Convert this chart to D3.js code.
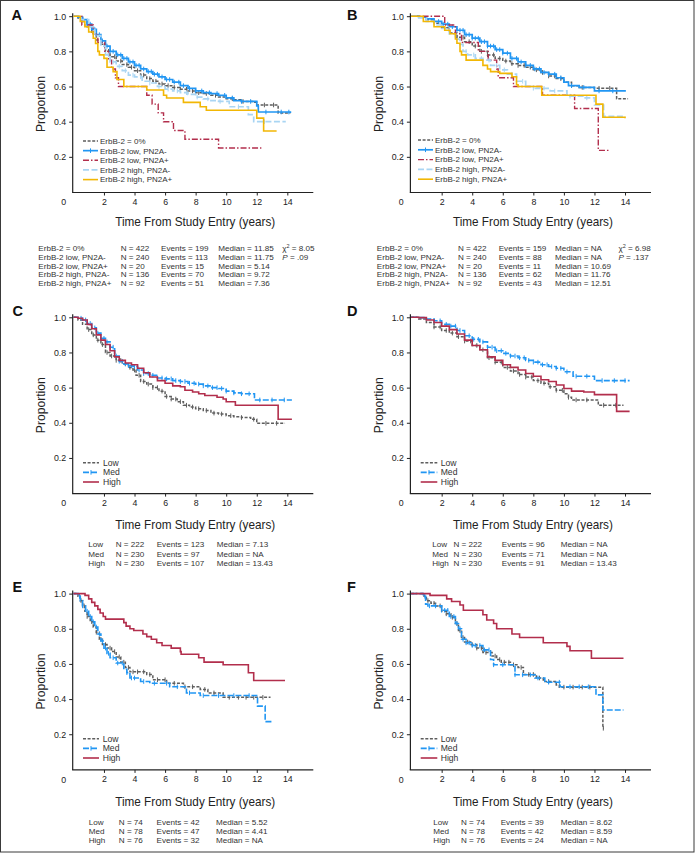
<!DOCTYPE html>
<html><head><meta charset="utf-8">
<script src="https://cdn.jsdelivr.net/npm/d3@7"></script>
<style>
body{margin:0;background:#fff}
text{font-family:"Liberation Sans",Arial,Helvetica,sans-serif;fill:#222}
</style>
</head><body>
<svg id="chart" width="695" height="853"></svg>
<script>
// ---------------- DATA ----------------
const xTicks = [2,4,6,8,10,12,14];
const yTicks = [0.2,0.4,0.6,0.8,1.0];

// Panel A (step points [years, proportion])
const A_zero = [[0,1],[0.3,0.99],[0.6,0.97],[0.9,0.94],[1.2,0.9],[1.5,0.865],[1.8,0.84],[2.1,0.8],[2.4,0.77],[2.8,0.745],[3.2,0.725],[3.6,0.71],[4.0,0.69],[4.4,0.665],[4.8,0.645],[5.2,0.63],[5.6,0.615],[6.0,0.605],[6.5,0.595],[7.0,0.585],[7.5,0.575],[8.0,0.565],[8.5,0.56],[9.0,0.55],[9.5,0.54],[10.0,0.53],[10.5,0.525],[11.0,0.515],[11.8,0.51],[12.0,0.495],[13.4,0.45],[14.2,0.45]];
const A_lowNeg = [[0,1],[0.3,0.995],[0.6,0.98],[0.9,0.955],[1.2,0.925],[1.5,0.895],[1.8,0.86],[2.1,0.83],[2.4,0.8],[2.8,0.78],[3.2,0.76],[3.6,0.74],[4.0,0.72],[4.4,0.7],[4.8,0.685],[5.2,0.67],[5.6,0.655],[6.0,0.64],[6.5,0.625],[7.0,0.605],[7.5,0.59],[8.0,0.575],[8.5,0.565],[9.0,0.56],[9.5,0.55],[10.0,0.535],[10.5,0.52],[11.0,0.515],[12.0,0.49],[12.1,0.455],[14.2,0.45]];
const A_lowPos = [[0,1],[0.55,0.95],[1.3,0.9],[1.6,0.85],[2.05,0.8],[2.3,0.75],[2.5,0.7],[2.75,0.65],[2.95,0.6],[4.8,0.55],[5.15,0.5],[5.55,0.45],[5.9,0.4],[6.55,0.35],[7.3,0.3],[9.5,0.25],[12.3,0.25]];
const A_highNeg = [[0,1],[0.5,0.98],[1.0,0.94],[1.4,0.89],[1.8,0.83],[2.1,0.78],[2.4,0.74],[2.8,0.715],[3.2,0.69],[3.6,0.665],[4.0,0.655],[4.5,0.63],[5.0,0.62],[5.5,0.6],[6.0,0.585],[6.5,0.575],[7.0,0.565],[7.5,0.555],[8.0,0.54],[8.5,0.53],[9.0,0.52],[9.5,0.515],[10.2,0.485],[11.45,0.44],[11.8,0.4],[13.9,0.4]];
const A_highPos = [[0,1],[0.45,0.97],[0.75,0.94],[1.0,0.91],[1.3,0.875],[1.45,0.845],[1.6,0.8],[1.7,0.78],[2.0,0.76],[2.2,0.71],[2.6,0.685],[2.85,0.64],[3.3,0.6],[4.8,0.58],[5.9,0.55],[6.1,0.535],[7.2,0.51],[8.3,0.485],[8.7,0.465],[12.0,0.42],[12.45,0.347],[13.3,0.347]];
const A_zeroCens = [2.3,2.7,3.1,3.5,3.8,4.2,4.6,5.0,5.4,5.8,6.2,6.6,7.0,7.4,7.8,8.2,8.7,9.3,10.4,11.1,12.5,13.1];
const A_lowNegCens = [0.9,1.1,1.4,1.7,1.9,2.2,2.4,2.6,2.9,3.1,3.3,3.5,3.7,3.9,4.1,4.3,4.6,4.9,5.1,5.3,5.5,5.8,6.1,6.3,6.6,6.9,7.2,7.6,8.0,8.4,8.9,9.4,9.9,10.4,11.0,11.6,12.6,13.6,14.1];
const A_highNegCens = [2.3,2.6,3.0,3.4,3.9,4.4,5.0,5.6,6.2,6.8,7.4,8.1,8.8,9.6,10.8,12.5];

// Panel B
const B_zero = [[0,1],[0.5,0.995],[1.0,0.98],[1.5,0.96],[2.0,0.935],[2.5,0.905],[3.0,0.88],[3.5,0.855],[4.0,0.83],[4.5,0.8],[5.0,0.78],[5.5,0.76],[6.0,0.745],[6.5,0.73],[7.0,0.72],[7.5,0.71],[8.0,0.695],[8.5,0.68],[9.0,0.66],[9.5,0.645],[10.0,0.625],[10.5,0.605],[11.0,0.595],[12.0,0.59],[13.45,0.53],[14.2,0.53]];
const B_lowNeg = [[0,1],[0.5,0.995],[1.0,0.985],[1.5,0.97],[2.0,0.955],[2.5,0.94],[3.0,0.92],[3.5,0.895],[4.0,0.875],[4.5,0.855],[5.0,0.83],[5.5,0.81],[6.0,0.79],[6.5,0.76],[7.0,0.74],[7.5,0.72],[8.0,0.7],[8.5,0.68],[9.0,0.67],[9.5,0.65],[10.0,0.625],[10.3,0.605],[11.0,0.595],[12.0,0.575],[14.0,0.57]];
const B_lowPos = [[0,1],[2.2,0.95],[2.9,0.9],[3.3,0.85],[4.4,0.8],[5.05,0.75],[5.6,0.7],[5.7,0.65],[6.7,0.6],[8.6,0.55],[10.7,0.475],[12.25,0.237],[13.0,0.237]];
const B_highNeg = [[0,1],[0.5,0.99],[1.0,0.97],[1.5,0.95],[2.0,0.93],[2.5,0.9],[2.9,0.87],[3.2,0.84],[3.4,0.8],[3.7,0.78],[4.2,0.76],[4.7,0.75],[5.2,0.72],[5.8,0.695],[6.3,0.67],[6.9,0.63],[7.5,0.6],[8.0,0.59],[9.1,0.575],[10.2,0.545],[11.3,0.535],[12.0,0.495],[12.6,0.43],[14.0,0.425]];
const B_highPos = [[0,1],[0.8,0.97],[1.5,0.94],[2.2,0.92],[2.55,0.9],[2.9,0.87],[3.0,0.846],[3.2,0.8],[3.3,0.78],[3.6,0.75],[4.7,0.72],[5.0,0.7],[5.2,0.685],[5.8,0.675],[6.6,0.656],[6.9,0.61],[7.0,0.6],[8.55,0.55],[12.1,0.5],[12.55,0.425],[14.0,0.42]];
const B_zeroCens = [3.0,3.4,3.8,4.2,4.6,5.0,5.4,5.8,6.2,6.6,7.0,7.4,7.8,8.2,8.6,9.0,9.4,9.8,10.5,11.2,12.3,13.0];
const B_lowNegCens = [1.5,1.8,2.1,2.4,2.7,3.0,3.2,3.4,3.6,3.8,4.0,4.2,4.4,4.6,4.8,5.0,5.2,5.4,5.6,5.8,6.0,6.3,6.6,6.9,7.2,7.5,7.8,8.1,8.4,8.7,9.0,9.4,9.8,10.5,11.3,12.3,13.2];
const B_highNegCens = [3.6,4.1,4.6,5.1,5.6,6.1,6.6,7.3,8.0,8.7,9.4,10.4,11.5];

// Panel C
const C_low = [[0,1],[0.3,0.985],[0.6,0.96],[0.9,0.93],[1.2,0.9],[1.5,0.87],[1.8,0.845],[2.1,0.8],[2.4,0.78],[2.8,0.755],[3.2,0.735],[3.6,0.715],[3.9,0.7],[4.1,0.67],[4.4,0.635],[4.8,0.62],[5.2,0.6],[5.6,0.58],[6.0,0.55],[6.4,0.535],[6.8,0.52],[7.2,0.5],[7.6,0.49],[8.0,0.48],[8.5,0.47],[9.0,0.455],[9.5,0.45],[10.0,0.44],[10.5,0.435],[11.0,0.43],[11.6,0.42],[12.0,0.397],[13.85,0.397]];
const C_med = [[0,1],[0.3,0.995],[0.6,0.985],[0.9,0.965],[1.2,0.94],[1.5,0.91],[1.8,0.88],[2.1,0.86],[2.4,0.83],[2.7,0.78],[3.0,0.75],[3.3,0.735],[3.6,0.725],[3.9,0.72],[4.2,0.7],[4.6,0.68],[5.0,0.67],[5.5,0.655],[6.0,0.65],[6.5,0.64],[7.0,0.635],[7.5,0.625],[8.0,0.62],[8.5,0.61],[9.0,0.6],[9.5,0.595],[10.0,0.58],[10.5,0.57],[11.0,0.565],[11.85,0.53],[14.3,0.53]];
const C_high = [[0,1],[0.3,0.995],[0.6,0.985],[0.9,0.96],[1.2,0.935],[1.5,0.9],[1.8,0.87],[2.1,0.845],[2.4,0.81],[2.7,0.775],[3.0,0.755],[3.4,0.74],[3.8,0.73],[4.2,0.71],[4.6,0.685],[5.0,0.66],[5.5,0.64],[6.0,0.625],[6.5,0.61],[7.0,0.605],[7.3,0.585],[7.8,0.575],[8.2,0.565],[8.6,0.555],[9.4,0.545],[9.8,0.535],[10.0,0.52],[10.6,0.5],[13.4,0.42],[14.3,0.42]];
const C_lowCens = [1.0,1.3,1.6,1.9,2.2,2.5,2.8,3.1,3.4,3.7,4.0,4.3,4.6,4.9,5.2,5.5,5.8,6.1,6.4,6.7,7.0,7.4,7.8,8.2,8.7,9.2,9.7,10.3,11.0,11.8,12.6,13.3];
const C_medCens = [0.5,0.8,1.1,1.4,1.6,1.8,2.0,2.2,2.4,2.6,2.8,3.0,3.2,3.4,3.6,3.8,4.0,4.3,4.6,4.9,5.2,5.5,5.8,6.1,6.4,6.7,7.0,7.3,7.6,7.9,8.2,8.5,8.8,9.1,9.4,9.7,10.0,10.5,11.0,11.5,12.2,13.0,13.8];

// Panel D
const D_low = [[0,1],[0.5,0.99],[1.0,0.97],[1.5,0.945],[2.0,0.925],[2.5,0.91],[3.0,0.89],[3.5,0.865],[4.0,0.84],[4.5,0.815],[5.0,0.77],[5.5,0.745],[6.0,0.715],[6.5,0.695],[7.0,0.675],[7.5,0.66],[8.0,0.64],[8.5,0.625],[9.0,0.605],[9.5,0.585],[10.0,0.565],[10.3,0.545],[10.5,0.53],[12.25,0.5],[13.9,0.5]];
const D_med = [[0,1],[0.5,0.998],[1.0,0.99],[1.5,0.98],[2.0,0.96],[2.5,0.95],[3.0,0.925],[3.5,0.895],[4.0,0.875],[4.5,0.86],[5.0,0.83],[5.5,0.81],[6.0,0.795],[6.5,0.78],[7.0,0.77],[7.5,0.755],[8.0,0.745],[8.5,0.73],[9.0,0.72],[9.5,0.71],[10.0,0.69],[10.6,0.665],[12.0,0.64],[14.3,0.64]];
const D_high = [[0,1],[0.5,0.998],[1.0,0.985],[1.5,0.97],[2.0,0.95],[2.5,0.93],[3.0,0.905],[3.5,0.87],[4.0,0.84],[4.5,0.815],[5.0,0.775],[5.5,0.755],[6.0,0.73],[6.5,0.715],[7.0,0.7],[7.5,0.68],[8.0,0.665],[8.5,0.645],[9.0,0.635],[9.5,0.615],[10.0,0.595],[10.5,0.58],[11.3,0.575],[12.0,0.56],[13.45,0.465],[14.3,0.465]];
const D_lowCens = [1.5,1.9,2.3,2.7,3.1,3.5,3.9,4.3,4.7,5.1,5.5,5.9,6.3,6.7,7.1,7.5,7.9,8.3,8.7,9.1,9.5,9.9,10.3,10.8,11.5,12.6,13.4];
const D_medCens = [1.5,1.9,2.3,2.6,2.9,3.2,3.5,3.8,4.1,4.4,4.7,5.0,5.3,5.6,5.9,6.2,6.5,6.8,7.1,7.4,7.7,8.0,8.3,8.6,8.9,9.2,9.5,9.8,10.2,10.8,11.5,12.5,13.3,14.0];

// Panel E
const E_low = [[0,1],[0.3,0.985],[0.45,0.96],[0.6,0.93],[0.75,0.9],[0.9,0.87],[1.1,0.84],[1.3,0.81],[1.5,0.78],[1.7,0.74],[1.9,0.71],[2.2,0.69],[2.5,0.67],[2.8,0.64],[3.1,0.61],[3.4,0.58],[3.7,0.555],[4.8,0.54],[5.2,0.51],[6.1,0.49],[7.2,0.47],[8.3,0.455],[8.8,0.435],[9.8,0.41],[12.9,0.41]];
const E_med = [[0,1],[0.3,0.985],[0.45,0.96],[0.6,0.93],[0.8,0.9],[1.0,0.87],[1.2,0.84],[1.4,0.81],[1.6,0.77],[1.8,0.73],[2.0,0.69],[2.2,0.66],[2.4,0.635],[2.8,0.605],[3.3,0.57],[3.5,0.55],[3.7,0.52],[4.4,0.5],[5.0,0.49],[6.3,0.47],[7.4,0.435],[8.3,0.42],[12.05,0.36],[12.55,0.272],[13.0,0.272]];
const E_high = [[0,1],[0.76,0.99],[1.0,0.97],[1.2,0.95],[1.4,0.93],[1.6,0.91],[1.75,0.89],[1.95,0.87],[2.1,0.855],[3.3,0.835],[3.45,0.815],[3.7,0.8],[3.95,0.79],[4.55,0.77],[4.8,0.755],[5.1,0.74],[5.45,0.72],[5.8,0.705],[6.4,0.69],[7.0,0.67],[7.05,0.655],[8.2,0.635],[8.55,0.61],[9.8,0.595],[11.45,0.55],[11.8,0.506],[13.85,0.506]];
const E_lowCens = [0.5,0.7,0.9,1.2,1.5,1.8,2.1,2.4,2.7,3.0,3.3,3.6,3.9,4.2,4.6,5.0,5.5,6.0,6.6,7.3,7.8,8.6,9.2,10.2,10.8,11.3,11.8,12.4];
const E_medCens = [0.4,0.6,0.9,1.1,1.3,1.5,1.7,1.9,2.1,2.3,2.6,2.9,3.2,3.5,3.8,4.0,4.6,5.3,6.1,6.8,7.6,8.5,9.5,10.5,11.5];

// Panel F
const F_low = [[0,1],[0.85,0.985],[1.0,0.96],[1.3,0.945],[1.6,0.93],[2.0,0.9],[2.3,0.885],[2.6,0.865],[2.9,0.83],[3.1,0.79],[3.3,0.75],[3.5,0.725],[3.9,0.71],[4.3,0.69],[4.7,0.665],[5.3,0.645],[5.6,0.625],[5.9,0.61],[6.5,0.595],[7.0,0.58],[7.35,0.54],[8.2,0.52],[8.65,0.5],[9.5,0.48],[9.7,0.468],[12.55,0.234],[12.6,0.234]];
const F_med = [[0,1],[0.8,0.985],[0.95,0.94],[1.1,0.93],[2.0,0.905],[2.5,0.87],[2.9,0.83],[3.1,0.8],[3.3,0.74],[3.6,0.72],[4.0,0.705],[4.7,0.68],[5.2,0.625],[5.4,0.595],[6.8,0.538],[8.1,0.52],[8.75,0.496],[9.75,0.47],[12.1,0.424],[12.55,0.338],[13.9,0.338]];
const F_high = [[0,1],[1.24,0.99],[2.33,0.97],[2.65,0.955],[3.2,0.935],[3.42,0.905],[4.7,0.88],[4.95,0.85],[5.4,0.83],[5.6,0.8],[6.6,0.77],[7.1,0.75],[8.65,0.72],[10.2,0.7],[10.4,0.675],[11.8,0.632],[13.9,0.632]];
const F_lowCens = [1.1,1.5,1.9,2.3,2.7,3.0,3.2,3.4,3.7,4.0,4.3,4.6,4.9,5.2,5.5,5.8,6.1,6.4,6.7,7.2,7.7,8.0,8.4,9.0,10.0,10.6,11.2,11.7,12.58];
const F_medCens = [0.9,1.2,1.6,2.0,2.2,2.4,2.6,2.8,3.0,3.2,3.4,3.6,3.8,4.0,4.2,4.5,4.8,5.1,5.4,6.0,6.8,7.3,7.8,8.3,9.0,9.7,10.4,11.0,11.6];

// Tables / legends
const groupsAB = ["ErbB-2 = 0%","ErbB-2 low, PN2A-","ErbB-2 low, PN2A+","ErbB-2 high, PN2A-","ErbB-2 high, PN2A+"];
const nAB = [422,240,20,136,92];
const eventsA = [199,113,15,70,51];
const medianA = ["11.85","11.75","5.14","9.72","7.36"];
const eventsB = [159,88,11,62,43];
const medianB = ["NA","NA","10.69","11.76","12.51"];
const chiA = "8.05", pA = ".09", chiB = "6.98", pB = ".137";
const levels = ["Low","Med","High"];
const nCD = [222,230,230];
const eventsC = [123,97,107];
const medianC = ["7.13","NA","13.43"];
const eventsD = [96,71,91];
const medianD = ["NA","NA","13.43"];
const nEF = [74,78,76];
const eventsE = [42,47,32];
const medianE = ["5.52","4.41","NA"];
const eventsF = [39,42,24];
const medianF = ["8.62","8.59","NA"];

// ---------------- STYLES ----------------
const GRAY = "#5e5e5e", BLUE = "#2196f3", RED = "#b22e4c", LBLUE = "#a9d5f3", GOLD = "#f2b705";
const S = {
  gray:  {c:GRAY, d:"3,1.6", w:1.5},
  blue:  {c:BLUE, d:null, w:1.7},
  blueD: {c:BLUE, d:"6,2", w:1.6},
  redDD: {c:RED, d:"6,2,1.5,2", w:1.4},
  lblue: {c:LBLUE, d:"6,2.5", w:1.7},
  gold:  {c:GOLD, d:null, w:1.6},
  red:   {c:RED, d:null, w:1.6}
};

const XPX = 15.28, YPX = 175.8, XMAX = 15.7;

function rowsAB(ev, med, chi, p){
  return groupsAB.map((g,i)=>[g,"N = "+nAB[i],"Events = "+ev[i],"Median = "+med[i], i===0?["chi",chi]:(i===1?["p",p]:null)]);
}
function rowsLv(n, ev, med){ return levels.map((g,i)=>[g,"N = "+n[i],"Events = "+ev[i],"Median = "+med[i],null]); }

const panels = [
  {letter:"A", lx:11.5, ly:20, x0:73.4, yb:192, titleY:221,
   series:[[A_zero,S.gray,A_zeroCens],[A_lowNeg,S.blue,A_lowNegCens],[A_lowPos,S.redDD,[]],[A_highNeg,S.lblue,A_highNegCens],[A_highPos,S.gold,[]]],
   legNames:groupsAB, leg:{y0:141, dy:9.65, sx0:83, sx1:98, tx:100, fs:8},
   table:{rows:rowsAB(eventsA,medianA,chiA,pA), cols:[38.3,120.7,161,218.3,282.3], y0:248.5, dy:8.6}},
  {letter:"B", lx:347, ly:20, x0:411.1, yb:192, titleY:221,
   series:[[B_zero,S.gray,B_zeroCens],[B_lowNeg,S.blue,B_lowNegCens],[B_lowPos,S.redDD,[]],[B_highNeg,S.lblue,B_highNegCens],[B_highPos,S.gold,[]]],
   legNames:groupsAB, leg:{y0:140, dy:9.8, sx0:418, sx1:433, tx:435, fs:8},
   table:{rows:rowsAB(eventsB,medianB,chiB,pB), cols:[376.8,457.9,498.7,555,618.4], y0:248.5, dy:8.6}},
  {letter:"C", lx:12.5, ly:315.5, x0:73.4, yb:493.1, titleY:523.7,
   series:[[C_low,S.gray,C_lowCens],[C_med,S.blueD,C_medCens],[C_high,S.red,[]]],
   legNames:levels, leg:{y0:462.7, dy:9.65, sx0:83, sx1:99, tx:103, fs:8.6},
   table:{rows:rowsLv(nCD,eventsC,medianC), cols:[88.3,115.7,156.7,216.7], y0:544.3, dy:9.3}},
  {letter:"D", lx:347, ly:315.5, x0:411.1, yb:493.1, titleY:523.7,
   series:[[D_low,S.gray,D_lowCens],[D_med,S.blueD,D_medCens],[D_high,S.red,[]]],
   legNames:levels, leg:{y0:462.7, dy:9.65, sx0:420.7, sx1:437.3, tx:440.7, fs:8.6},
   table:{rows:rowsLv(nCD,eventsD,medianD), cols:[432.2,453.5,501.8,560.7], y0:544.3, dy:9.3}},
  {letter:"E", lx:12.5, ly:592.3, x0:73.4, yb:769.4, titleY:801,
   series:[[E_low,S.gray,E_lowCens],[E_med,S.blueD,E_medCens],[E_high,S.red,[]]],
   legNames:levels, leg:{y0:738.7, dy:9.65, sx0:83, sx1:99, tx:102.7, fs:8.6},
   table:{rows:rowsLv(nEF,eventsE,medianE), cols:[88.7,118.8,156.5,215.9], y0:821.7, dy:9.2}},
  {letter:"F", lx:347, ly:592.3, x0:411.1, yb:769.4, titleY:801,
   series:[[F_low,S.gray,F_lowCens],[F_med,S.blueD,F_medCens],[F_high,S.red,[]]],
   legNames:levels, leg:{y0:738.7, dy:9.65, sx0:420.7, sx1:437.3, tx:440.7, fs:8.6},
   table:{rows:rowsLv(nEF,eventsF,medianF), cols:[433.3,461,500.7,560.7], y0:821.7, dy:9.2}}
];

// ---------------- DRAW ----------------
const svg = d3.select("#chart");
svg.append("rect").attr("x",0.5).attr("y",0.5).attr("width",693.5).attr("height",851.5)
   .attr("fill","#fff").attr("stroke","#3a3a3a").attr("stroke-width",1);

function valAt(data, t){ let v = data[0][1]; for(const p of data){ if(p[0] <= t) v = p[1]; else break; } return v; }

function styleLine(sel, st){
  sel.attr("fill","none").attr("stroke",st.c).attr("stroke-width",st.w);
  if(st.d) sel.attr("stroke-dasharray",st.d);
  return sel;
}

panels.forEach(P=>{
  const g = svg.append("g");
  const x = d3.scaleLinear().domain([0,XMAX]).range([P.x0, P.x0 + XMAX*XPX]);
  const y = d3.scaleLinear().domain([0,1]).range([P.yb, P.yb - YPX]);

  // panel letter
  g.append("text").attr("x",P.lx).attr("y",P.ly).text(P.letter)
    .style("font-size","14.5px").style("font-weight","bold").style("fill","#111");

  // y axis
  const ya = g.append("g").attr("transform",`translate(${P.x0-0.7},0)`)
    .call(d3.axisLeft(y).tickValues(yTicks).tickFormat(d3.format(".1f")).tickSize(3.5).tickPadding(3));
  ya.select(".domain").remove();
  ya.selectAll("text").style("font-size","8.8px").style("fill","#222");
  ya.selectAll("line").attr("stroke","#222");
  // x axis
  const xa = g.append("g").attr("transform",`translate(0,${P.yb+0.5})`)
    .call(d3.axisBottom(x).tickValues(xTicks).tickSize(3).tickPadding(3));
  xa.select(".domain").remove();
  xa.selectAll("text").style("font-size","8.8px").style("fill","#222");
  xa.selectAll("line").attr("stroke","#222");
  g.append("text").attr("x",P.x0-9.8).attr("y",P.yb+13.3).attr("text-anchor","middle")
    .text("0").style("font-size","8.8px");
  // axis lines
  g.append("line").attr("x1",P.x0-0.7).attr("x2",P.x0-0.7).attr("y1",P.yb+0.5).attr("y2",y(1.017))
    .attr("stroke","#222").attr("stroke-width",1.2);
  g.append("line").attr("x1",P.x0-1.3).attr("x2",x(XMAX)).attr("y1",P.yb+0.5).attr("y2",P.yb+0.5)
    .attr("stroke","#222").attr("stroke-width",1.2);

  // axis titles
  g.append("text").attr("transform",`translate(${P.x0-28},${y(0.5)}) rotate(-90)`)
    .attr("text-anchor","middle").attr("textLength",56).attr("lengthAdjust","spacingAndGlyphs")
    .text("Proportion").style("font-size","13.5px");
  g.append("text").attr("x",P.x0+121.8).attr("y",P.titleY+4.8).attr("text-anchor","middle")
    .attr("textLength",160).attr("lengthAdjust","spacingAndGlyphs")
    .text("Time From Study Entry (years)").style("font-size","13.5px");

  // curves
  const line = d3.line().x(d=>x(d[0])).y(d=>y(d[1])).curve(d3.curveStepAfter);
  P.series.forEach(([data, st, cens])=>{
    styleLine(g.append("path").attr("d",line(data)), st);
    g.selectAll(null).data(cens).enter().append("line")
      .attr("x1",t=>x(t)).attr("x2",t=>x(t))
      .attr("y1",t=>y(valAt(data,t))-2.3).attr("y2",t=>y(valAt(data,t))+2.3)
      .attr("stroke",st.c).attr("stroke-width",1);
  });

  // legend
  P.series.forEach(([data, st, cens], i)=>{
    const ly = P.leg.y0 + i*P.leg.dy;
    styleLine(g.append("line").attr("x1",P.leg.sx0).attr("x2",P.leg.sx1).attr("y1",ly).attr("y2",ly), st);
    if(cens.length && st.c===BLUE){
      const mx = (P.leg.sx0+P.leg.sx1)/2;
      g.append("line").attr("x1",mx).attr("x2",mx).attr("y1",ly-2.3).attr("y2",ly+2.3).attr("stroke",st.c).attr("stroke-width",1);
    }
    g.append("text").attr("x",P.leg.tx).attr("y",ly+P.leg.fs*0.36).text(P.legNames[i])
      .style("font-size",P.leg.fs+"px").style("fill","#333");
  });

  // table
  P.table.rows.forEach((r,i)=>{
    const ty = P.table.y0 + i*P.table.dy + 2.9;
    for(let c=0;c<4;c++){
      g.append("text").attr("x",P.table.cols[c]).attr("y",ty).text(r[c]).style("font-size","8.1px").style("fill","#333");
    }
    if(r[4]){
      const t = g.append("text").attr("x",P.table.cols[4]).attr("y",ty).style("font-size","8.1px").style("fill","#333");
      if(r[4][0]==="chi"){
        t.append("tspan").text("χ");
        t.append("tspan").attr("dy",-3).style("font-size","5.5px").text("2");
        t.append("tspan").attr("dy",3).text(" = "+r[4][1]);
      } else {
        t.append("tspan").style("font-style","italic").text("P");
        t.append("tspan").text(" = "+r[4][1]);
      }
    }
  });
});
</script>
</body></html>
